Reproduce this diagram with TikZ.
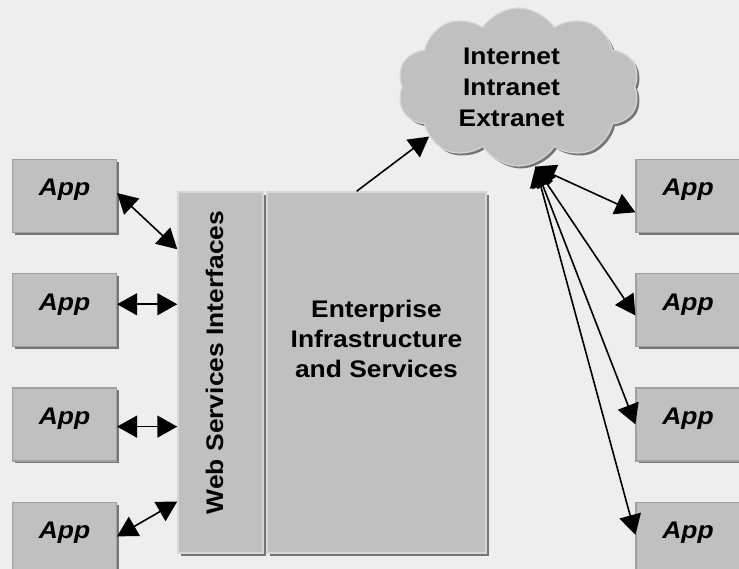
\documentclass[tikz,border=0pt]{standalone}
\usepackage{fontspec}
\setmainfont[FakeStretch=1.1]{Liberation Sans}
\usetikzlibrary{arrows.meta,positioning,shapes.symbols,shadows,calc}

\definecolor{bggray}{HTML}{EEEEEE}
\definecolor{boxgray}{HTML}{C0C0C0}
\definecolor{edgegray}{HTML}{A0A0A0}
\definecolor{edgelight}{HTML}{D6D6D6}
\definecolor{shadowgray}{HTML}{757575}

\begin{document}
\begin{tikzpicture}[
x=1pt, y=-1pt,
app/.style={rectangle, fill=boxgray, draw=edgegray, line width=1.2pt, minimum width=104pt, minimum height=73pt, inner sep=0pt, font=\fontsize{24}{30}\selectfont\bfseries\itshape, text height=0pt, text depth=0pt, drop shadow={shadow xshift=2.5pt, shadow yshift=-2.5pt, fill=shadowgray, opacity=1}},
block/.style={rectangle, fill=boxgray, draw=edgelight, line width=1.5pt, inner sep=0pt, drop shadow={shadow xshift=3pt, shadow yshift=-3pt, fill=shadowgray, opacity=1}},
bigtext/.style={font=\fontsize{24}{30}\selectfont\bfseries, align=center, inner sep=0pt},
net/.style={cloud, cloud puffs=10, cloud puff arc=115, aspect=1.5, fill=boxgray, draw=edgelight, line width=1.2pt, minimum width=242pt, minimum height=158pt, inner sep=0pt, drop shadow={shadow xshift=2.5pt, shadow yshift=-2.5pt, fill=shadowgray, opacity=1}},
conn/.style={{Triangle[length=20pt,width=22pt]}-{Triangle[length=20pt,width=22pt]}, line width=1.6pt},
]
\clip (0,0) rectangle (739,569);
\fill[bggray] (0,0) rectangle (739,569);

% middle part
\node[block, minimum width=85pt, minimum height=361pt] (ws) at (220.5,372.5) {};
\node[bigtext, yshift=10pt, rotate=90, text height=5pt, text depth=0pt] (wslabel) at (ws.center) {Web Services Interfaces};
\node[block, minimum width=219pt, minimum height=361pt,
      label={[bigtext, yshift=34pt]center:Enterprise\\Infrastructure\\and Services}] (ent) at (376.5,372.5) {};

% the net
\node[net, label={[bigtext, font=\fontsize{24}{31}\selectfont\bfseries, xshift=-7pt]center:Internet\\Intranet\\Extranet}] (inet) at (518.5,87) {};

% apps on the left
\node[app] (app1) at (64.5,196) {App};
\node[app, below=40pt of app1] (app2) {App};
\node[app, below=40pt of app2] (app3) {App};
\node[app, below=40pt of app3] (app4) {App};

% apps on the right
\node[app] (rapp1) at (688,196) {App};
\node[app, below=40pt of rapp1] (rapp2) {App};
\node[app, below=40pt of rapp2] (rapp3) {App};
\node[app, below=40pt of rapp3] (rapp4) {App};

% left connectors
\coordinate (l1) at ($(app1.north east)!0.46!(app1.south east)$);
\coordinate (l2) at ($(app2.north east)!0.42!(app2.south east)$);
\coordinate (l3) at ($(app3.north east)!0.53!(app3.south east)$);
\coordinate (l4) at ($(app4.north east)!0.47!(app4.south east)$);
\draw[conn] (l1) -- ($(ws.north west)!0.16!(ws.south west)$);
\draw[conn] (l2) -- (l2 -| ws.west);
\draw[conn] (l3) -- (l3 -| ws.west);
\draw[conn] (l4) -- ($(ws.north west)!0.856!(ws.south west)$);

% up to the net
\draw[-{Triangle[length=20pt,width=22pt]}, line width=1.6pt] ($(ent.north west)!0.41!(ent.north east)$) -- (inet.209);

% right connectors
\coordinate (hub) at ([xshift=17pt]inet.south);
\draw[conn] (hub) -- ($(rapp1.north west)!0.72!(rapp1.south west)$);
\draw[conn] (hub) -- ($(rapp2.north west)!0.57!(rapp2.south west)$);
\draw[conn] (hub) -- (rapp3.west);
\draw[conn] (hub) -- ($(rapp4.north west)!0.45!(rapp4.south west)$);
\end{tikzpicture}
\end{document}
